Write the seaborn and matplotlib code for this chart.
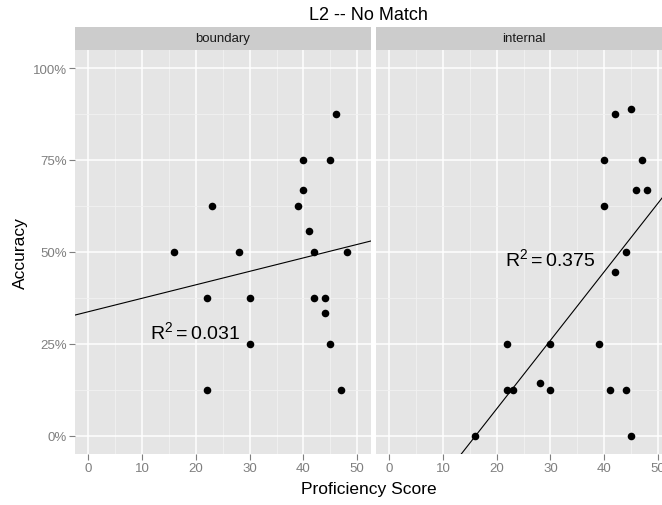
import matplotlib
matplotlib.use("Agg")
import matplotlib.pyplot as plt
import seaborn as sns
import pandas as pd
from matplotlib import ticker

# data
boundary_score = [46, 40, 45, 40, 23, 39, 41, 16, 28, 42, 48, 22, 30, 42, 44, 44, 30, 45, 22, 47]
boundary_acc = [0.875, 0.75, 0.75, 0.667, 0.625, 0.625, 0.556, 0.5, 0.5, 0.5, 0.5,
                0.375, 0.375, 0.375, 0.375, 0.333, 0.25, 0.25, 0.125, 0.125]
internal_score = [45, 42, 40, 47, 46, 48, 40, 44, 42, 22, 30, 39, 28, 22, 23, 30, 41, 44, 16, 45]
internal_acc = [0.889, 0.875, 0.75, 0.75, 0.667, 0.667, 0.625, 0.5, 0.444, 0.25, 0.25, 0.25,
                0.143, 0.125, 0.125, 0.125, 0.125, 0.125, 0.0, 0.0]
panel_names = ["boundary", "internal"]
r2_labels = ["0.031", "0.375"]
r2_pos = [(19.8, 0.285), (29.9, 0.483)]
x_ticks = [0, 10, 20, 30, 40, 50]
y_ticks = [0, 0.25, 0.5, 0.75, 1.0]
y_tick_labels = ["0%", "25%", "50%", "75%", "100%"]

df = pd.DataFrame({
    "score": boundary_score + internal_score,
    "acc": boundary_acc + internal_acc,
    "position": ["boundary"] * len(boundary_score) + ["internal"] * len(internal_score),
})

plt.rcParams["font.family"] = ["Liberation Sans", "DejaVu Sans"]
plt.rcParams["mathtext.fontset"] = "custom"
plt.rcParams["mathtext.rm"] = "Liberation Sans"
plt.rcParams["mathtext.it"] = "Liberation Sans"

W, H = 662, 506
fig = plt.figure(figsize=(W / 100, H / 100), dpi=100)
fig.patch.set_facecolor("white")

grey = "#7f7f7f"
panel_w, panel_h = 295.7, 404.3
lefts = [75, 375.7]

for i, name in enumerate(panel_names):
    ax = fig.add_axes([lefts[i] / W, 51 / H, panel_w / W, panel_h / H])
    ax.set_facecolor("#e5e5e5")
    ax.set_xlim(-2.5, 52.5)
    ax.set_ylim(-0.05, 1.05)
    sub = df[df["position"] == name]
    sns.regplot(
        data=sub, x="score", y="acc", ax=ax, ci=None, truncate=False,
        scatter_kws={"s": 30, "color": "black", "alpha": 1, "linewidths": 0, "zorder": 3},
        line_kws={"color": "black", "lw": 0.8, "zorder": 2},
    )
    ax.set_xlim(-2.5, 52.5)
    ax.set_ylim(-0.05, 1.05)

    ax.set_xticks(x_ticks)
    ax.set_yticks(y_ticks)
    ax.set_yticklabels(y_tick_labels)
    ax.xaxis.set_minor_locator(ticker.MultipleLocator(5))
    ax.yaxis.set_minor_locator(ticker.MultipleLocator(0.125))
    ax.grid(which="major", color="white", lw=1.1)
    ax.grid(which="minor", color="#f2f2f2", lw=0.6)
    ax.set_axisbelow(True)
    for s in ax.spines.values():
        s.set_visible(False)
    ax.tick_params(which="major", length=4, width=0.8, color=grey,
                   labelcolor=grey, labelsize=9.5, pad=2)
    ax.tick_params(which="minor", length=0)
    if i == 1:
        ax.tick_params(axis="y", left=False, labelleft=False)
    ax.set_xlabel("")
    ax.set_ylabel("")

    ax.text(r2_pos[i][0], r2_pos[i][1], r"$\mathrm{R}^2 = " + r2_labels[i] + "$",
            ha="center", va="center", fontsize=14, color="black")

    strip = fig.add_axes([lefts[i] / W, (H - 50.7) / H, panel_w / W, 22.7 / H])
    strip.set_facecolor("#cccccc")
    strip.set_xticks([])
    strip.set_yticks([])
    for s in strip.spines.values():
        s.set_visible(False)
    strip.text(0.5, 0.5, name, ha="center", va="center", fontsize=9.5,
               color="#1a1a1a", transform=strip.transAxes)

mid = (75 + 662) / 2 / W
fig.text(mid, 1 - 15.5 / H, "L2 -- No Match", ha="center", va="center", fontsize=13)
fig.text(mid, 1 - 490 / H, "Proficiency Score", ha="center", va="center", fontsize=12.5)
fig.text(20 / W, 1 - 253 / H, "Accuracy", ha="center", va="center", rotation=90, fontsize=12.5)

fig.savefig("out.png", dpi=100)
